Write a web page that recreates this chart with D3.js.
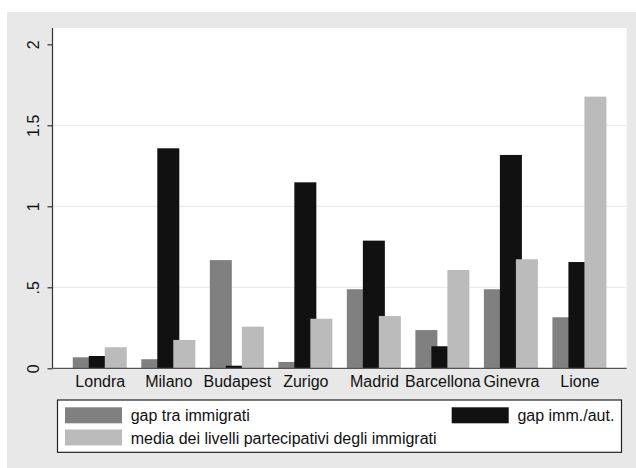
<!DOCTYPE html>
<html>
<head>
<meta charset="utf-8">
<script src="https://cdn.jsdelivr.net/npm/d3@7"></script>
<style>
  body { margin: 0; background: #fff; }
  text { font-family: "Liberation Sans", Arial, sans-serif; }
</style>
</head>
<body>
<div id="root"></div>
<script>
const cities = ["Londra", "Milano", "Budapest", "Zurigo", "Madrid", "Barcellona", "Ginevra", "Lione"];
const gapImmigrati = [0.068, 0.056, 0.668, 0.039, 0.488, 0.236, 0.488, 0.315];
const gapImmAut = [0.076, 1.358, 0.016, 1.148, 0.788, 0.136, 1.317, 0.656];
const mediaLivelli = [0.13, 0.175, 0.257, 0.306, 0.323, 0.607, 0.673, 1.677];
const yTicks = [0, 0.5, 1, 1.5, 2];
const yTickLabels = ["0", ".5", "1", "1.5", "2"];

const seriesInfo = [
  { id: "gap", label: "gap tra immigrati", color: "#808080", values: gapImmigrati },
  { id: "immaut", label: "gap imm./aut.", color: "#111111", values: gapImmAut },
  { id: "media", label: "media dei livelli partecipativi degli immigrati", color: "#bbbbbb", values: mediaLivelli },
];

const width = 636;
const height = 468;
const plot = { left: 52.5, right: 626.7, top: 28, bottom: 368.3 };

const svg = d3.select("#root")
  .append("svg")
  .attr("width", width)
  .attr("height", height);

// outer gray background
svg.append("rect")
  .attr("x", 7).attr("y", 12)
  .attr("width", width - 7).attr("height", height - 12)
  .attr("fill", "#e8e8e8");

// plot region
svg.append("rect")
  .attr("x", plot.left).attr("y", plot.top)
  .attr("width", plot.right - plot.left).attr("height", plot.bottom - plot.top)
  .attr("fill", "#ffffff");

const xScale = d3.scalePoint()
  .domain(cities)
  .range([plot.left, plot.right])
  .padding(0.69);

const xInner = d3.scalePoint()
  .domain(seriesInfo.map((s) => s.id))
  .range([-16, 16]);
const barWidth = 22;

const yScale = d3.scaleLinear()
  .domain([0, 2])
  .range([plot.bottom, 44.3]);

// grid lines
svg.append("g")
  .selectAll("line")
  .data(yTicks.filter((t) => t > 0 && t < 2))
  .join("line")
  .attr("x1", plot.left)
  .attr("x2", plot.right)
  .attr("y1", (d) => yScale(d))
  .attr("y2", (d) => yScale(d))
  .attr("stroke", "#ebebeb")
  .attr("stroke-width", 1.3);

// bars, drawn in series order so later ones overlap earlier ones
seriesInfo.forEach((s) => {
  svg.append("g")
    .selectAll("rect")
    .data(s.values.map((v, i) => ({ city: cities[i], value: v })))
    .join("rect")
    .attr("x", (d) => xScale(d.city) + xInner(s.id) - barWidth / 2)
    .attr("width", barWidth)
    .attr("y", (d) => yScale(d.value))
    .attr("height", (d) => yScale(0) - yScale(d.value))
    .attr("fill", s.color);
});

// left axis
const leftAxis = d3.axisLeft(yScale)
  .tickValues(yTicks)
  .tickFormat((d, i) => yTickLabels[i])
  .tickSize(5)
  .tickSizeOuter(0)
  .tickPadding(0);

const yAxisG = svg.append("g")
  .attr("transform", `translate(${plot.left}, 0)`)
  .call(leftAxis);
yAxisG.select(".domain").remove();
yAxisG.selectAll(".tick line").attr("stroke", "#333").attr("stroke-width", 1.2);
yAxisG.selectAll(".tick text")
  .attr("x", null).attr("dy", null)
  .attr("transform", "translate(-14, 0) rotate(-90)")
  .attr("text-anchor", "middle")
  .attr("fill", "#111")
  .style("font-size", "16px");

svg.append("line")
  .attr("x1", plot.left).attr("x2", plot.left)
  .attr("y1", plot.top).attr("y2", plot.bottom)
  .attr("stroke", "#333").attr("stroke-width", 1.2);

// bottom axis
const bottomAxis = d3.axisBottom(xScale).tickSize(0).tickPadding(0);
const xAxisG = svg.append("g")
  .attr("transform", `translate(0, ${plot.bottom})`)
  .call(bottomAxis);
xAxisG.select(".domain").remove();
xAxisG.selectAll(".tick text")
  .attr("y", 18.5).attr("dy", null)
  .attr("fill", "#111")
  .style("font-size", "16px");

svg.append("line")
  .attr("x1", plot.left).attr("x2", plot.right)
  .attr("y1", plot.bottom).attr("y2", plot.bottom)
  .attr("stroke", "#555").attr("stroke-width", 1.2);

// legend
const legend = svg.append("g");
legend.append("rect")
  .attr("x", 57.5).attr("y", 400)
  .attr("width", 564).attr("height", 52.3)
  .attr("fill", "#fff")
  .attr("stroke", "#222")
  .attr("stroke-width", 1.2);

const legendPos = [
  { x: 65, y: 407.3 },
  { x: 451.7, y: 407.3 },
  { x: 65, y: 429.5 },
];

seriesInfo.forEach((s, i) => {
  const p = legendPos[i];
  legend.append("rect")
    .attr("x", p.x).attr("y", p.y)
    .attr("width", 57).attr("height", 16)
    .attr("fill", s.color);
  legend.append("text")
    .attr("x", p.x + 65.7)
    .attr("y", p.y + 14)
    .attr("fill", "#111")
    .style("font-size", "16px")
    .text(s.label);
});
</script>
</body>
</html>
